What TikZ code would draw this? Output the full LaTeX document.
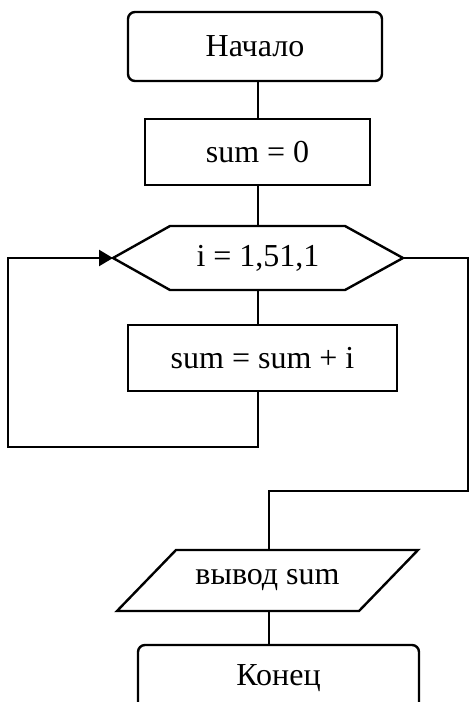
\documentclass[tikz,border=0pt]{standalone}
\usepackage{fontspec}
\setmainfont{Liberation Serif}
\usetikzlibrary{arrows.meta}
\begin{document}
\begin{tikzpicture}[x=1pt,y=-1pt,
  line width=2.4pt,
  every node/.style={font=\fontsize{32}{38}\selectfont, inner sep=0pt, outer sep=0pt},
  termbox/.style={draw, rounded corners=7pt},
  procbox/.style={draw},
  shapeholder/.style={draw=none},
  conn/.style={line width=2.4pt},
  loopback/.style={conn, -{Triangle[length=14pt,width=16pt]}}]
\clip (0,0) rectangle (471,702);
\useasboundingbox (0,0) rectangle (471,702);
\fill[white] (0,0) rectangle (471,702);

\coordinate (axis) at (258,0);
\coordinate (axisb) at (269,0);

\node[termbox, minimum width=254pt, minimum height=69pt] (start) at (255,46.5) {Начало};
\node[procbox, minimum width=225pt, minimum height=66pt] (init) at (257.5,152) {sum = 0};
\node[shapeholder, minimum width=290pt, minimum height=64pt] (loop) at (258,258) {i = 1,51,1};
\node[procbox, minimum width=269pt, minimum height=66pt] (body) at (262.5,358) {sum = sum + i};
\node[shapeholder, minimum width=301pt, minimum height=61pt] (out) at (267.5,580.5) {вывод sum};
\node[termbox, minimum width=281pt, minimum height=66pt] (end) at (278.5,678) {Конец};

% hexagon of the loop
\draw (loop.west) -- ([xshift=57pt]loop.north west) -- ([xshift=-58pt]loop.north east)
  -- (loop.east) -- ([xshift=-58pt]loop.south east) -- ([xshift=57pt]loop.south west) -- cycle;
% parallelogram of the output
\draw ([xshift=59pt]out.north west) -- (out.north east) -- ([xshift=-59pt]out.south east)
  -- (out.south west) -- cycle;

\coordinate (lb) at (8,447);
\coordinate (rt) at (468,491);

\draw[conn] (start.south -| axis) -- (init.north -| axis);
\draw[conn] (init.south -| axis) -- (loop.north -| axis);
\draw[conn] (loop.south -| axis) -- (body.north -| axis);
\draw[loopback] (body.south -| axis) |- (lb) |- (loop.west);
\draw[conn] (loop.east) -| (rt) -| (out.north -| axisb);
\draw[conn] (out.south -| axisb) -- (end.north -| axisb);
\end{tikzpicture}
\end{document}
